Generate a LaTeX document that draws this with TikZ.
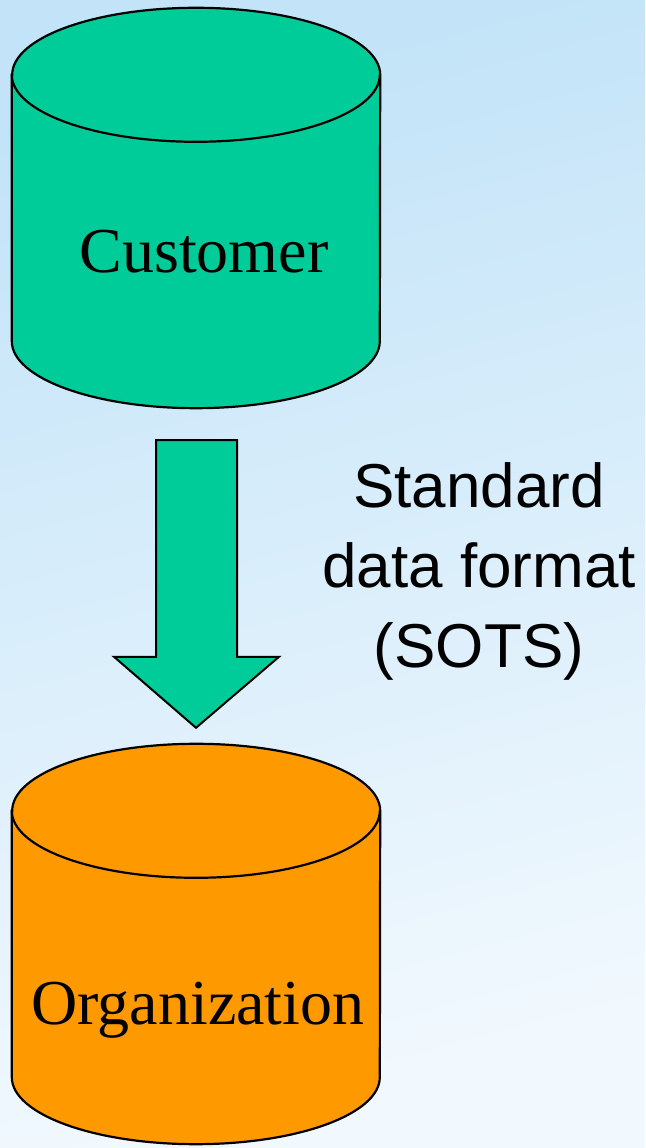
\documentclass[tikz,border=0pt]{standalone}
\usepackage{fontspec}
\setmainfont{Liberation Serif}
\newfontfamily\arialface{Liberation Sans}
\usetikzlibrary{calc}
\definecolor{dbgreen}{HTML}{00CC99}
\definecolor{dborange}{HTML}{FF9900}
\definecolor{bgtop}{HTML}{C2E3F8}
\definecolor{bgbottom}{HTML}{F2F9FE}

\begin{document}
\begin{tikzpicture}[
    x=1pt, y=1pt,
    dbbody/.style={rectangle, minimum width=368pt, minimum height=400pt, inner sep=0pt},
    dbline/.style={draw=black, line width=2.2pt},
    dblabel/.style={font=\fontsize{64}{64}\selectfont, text=black, anchor=base},
    note/.style={font=\arialface\fontsize{62}{80}\selectfont, align=center},
    flow/.style={draw=black, line width=2pt, fill=dbgreen, line join=miter}
]

% page background
\shade[top color=bgtop, bottom color=bgbottom, shading angle=15] (0,0) rectangle (645,1148);
\useasboundingbox (0,0) rectangle (645,1148);

% the two data stores
\node[dbbody] (cust) at (196, 940) {};
\node[dbbody] (orgn) at (196, 204) {};
\foreach \db/\col in {cust/dbgreen, orgn/dborange} {
    \draw[dbline, fill=\col] ($(\db.north west)+(0,-67)$) -- ($(\db.south west)+(0,67)$)
        arc[start angle=180, end angle=360, x radius=184pt, y radius=67pt]
        -- ($(\db.north east)+(0,-67)$)
        arc[start angle=0, end angle=180, x radius=184pt, y radius=67pt] -- cycle;
    \draw[dbline] ($(\db.north west)+(0,-67)$)
        arc[start angle=180, end angle=360, x radius=184pt, y radius=67pt];
}
\node[dblabel] (custname) at ($(cust.center)+(8,-65)$) {Customer};
\node[dblabel] (orgnname) at ($(orgn.center)+(2,-81)$) {Organization};

% block arrow between them
\draw[flow] ($(cust.south)+(-40,-32)$) -- ($(cust.south)+(41,-32)$)
    -- ($(orgn.north)+(41,87)$) -- ($(orgn.north)+(83,87)$)
    -- ($(orgn.north)+(0,16)$)
    -- ($(orgn.north)+(-82,87)$) -- ($(orgn.north)+(-40,87)$) -- cycle;

\node[note] (fmt) at (479, 577) {Standard\\data format\\(SOTS)};

\end{tikzpicture}
\end{document}
